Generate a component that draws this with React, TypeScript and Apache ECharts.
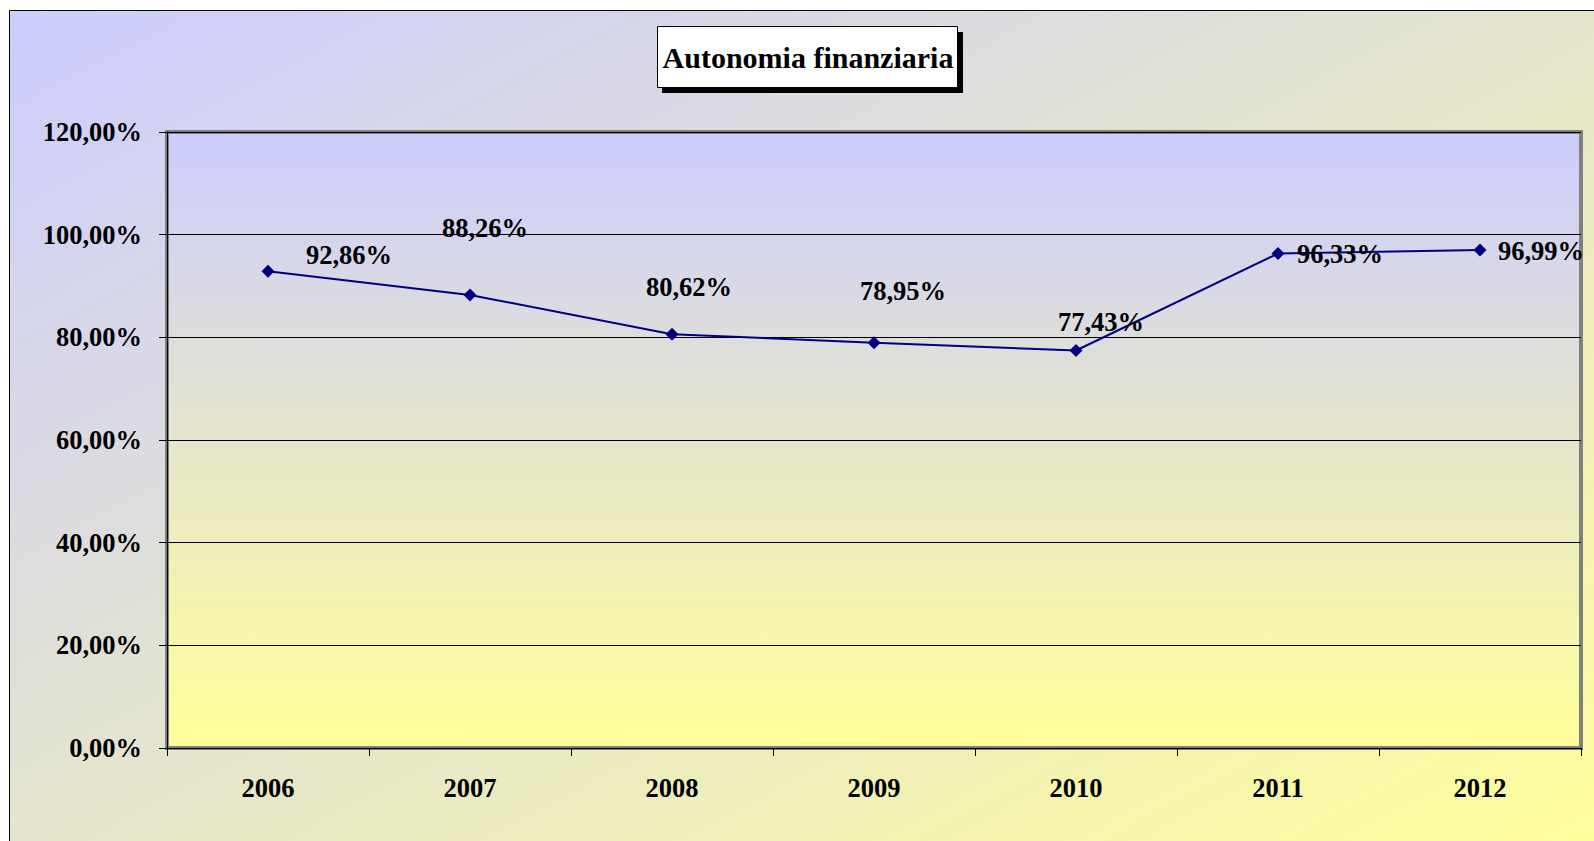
import React, { useEffect, useRef } from "react";
import * as echarts from "echarts";

const categories = ["2006", "2007", "2008", "2009", "2010", "2011", "2012"];
const values = [92.86, 88.26, 80.62, 78.95, 77.43, 96.33, 96.99];
const yTicks = { min: 0, max: 120, interval: 20 };
const titleText = "Autonomia finanziaria";
// label offsets (style only), relative to each point
const labelOffsets = [
  [81, -16],
  [15, -67],
  [17, -47],
  [29, -52],
  [25, -29],
  [62, 0],
  [61, 1],
];

const FONT = "Liberation Serif";

function fmt(v: number) {
  return v.toFixed(2).replace(".", ",") + "%";
}

export default function App() {
  const ref = useRef<HTMLDivElement>(null);
  useEffect(() => {
    if (!ref.current) return;
    const chart = echarts.init(ref.current, null, { renderer: "svg" });
    const option: any = {
      animation: false,
      backgroundColor: "#ffffff",
      graphic: [
        {
          type: "rect",
          z: -10,
          silent: true,
          shape: { x: 9.5, y: 10.5, width: 1620, height: 860 },
          style: {
            fill: new echarts.graphic.LinearGradient(0, 0, 1, 1, [
              { offset: 0, color: "#CCCCFF" },
              { offset: 1, color: "#FFFF99" },
            ]),
            stroke: "#000000",
            lineWidth: 1,
          },
        },
        {
          type: "group",
          z: 10,
          children: [
            {
              type: "rect",
              shape: { x: 662, y: 32, width: 301, height: 61 },
              style: { fill: "#000000" },
            },
            {
              type: "rect",
              shape: { x: 657.5, y: 26.5, width: 300, height: 61 },
              style: { fill: "#ffffff", stroke: "#000000", lineWidth: 1 },
            },
            {
              type: "text",
              x: 808,
              y: 57,
              style: {
                text: titleText,
                font: `bold 30px "${FONT}"`,
                fill: "#000000",
                align: "center",
                verticalAlign: "middle",
              },
            },
          ],
        },
      ],
      grid: {
        left: 167,
        top: 132,
        width: 1414,
        height: 616,
        show: true,
        borderColor: "#808080",
        borderWidth: 4,
        backgroundColor: new echarts.graphic.LinearGradient(0, 0, 0, 1, [
          { offset: 0, color: "#CCCCFF" },
          { offset: 1, color: "#FFFF99" },
        ]),
      },
      xAxis: {
        type: "category",
        data: categories,
        boundaryGap: true,
        axisLine: { show: true, lineStyle: { color: "#000", width: 1 } },
        axisTick: { show: true, length: 8, lineStyle: { color: "#000" } },
        axisLabel: {
          margin: 26,
          color: "#000",
          fontFamily: FONT,
          fontWeight: "bold",
          fontSize: 26.5,
        },
        splitLine: { show: false },
      },
      yAxis: {
        type: "value",
        min: yTicks.min,
        max: yTicks.max,
        interval: yTicks.interval,
        axisLine: { show: true, lineStyle: { color: "#000", width: 1 } },
        axisTick: { show: true, length: 8, lineStyle: { color: "#000" } },
        axisLabel: {
          margin: 25,
          color: "#000",
          fontFamily: FONT,
          fontWeight: "bold",
          fontSize: 26.5,
          formatter: (v: number) => fmt(v),
        },
        splitLine: { show: true, lineStyle: { color: "#000", width: 1 } },
      },
      series: [
        {
          type: "line",
          data: values.map((v, i) => ({
            value: v,
            label: { offset: labelOffsets[i] },
          })),
          symbol: "diamond",
          symbolSize: 13,
          lineStyle: { color: "#000080", width: 2 },
          itemStyle: { color: "#000080" },
          label: {
            show: true,
            position: "inside",
            color: "#000",
            fontFamily: FONT,
            fontWeight: "bold",
            fontSize: 26.5,
            formatter: (p: any) => fmt(p.value),
          },
        },
      ],
    };
    chart.setOption(option);
    return () => chart.dispose();
  }, []);
  return (
    <div
      ref={ref}
      style={{ position: "fixed", left: 0, top: 0, width: 1594, height: 841 }}
    />
  );
}
